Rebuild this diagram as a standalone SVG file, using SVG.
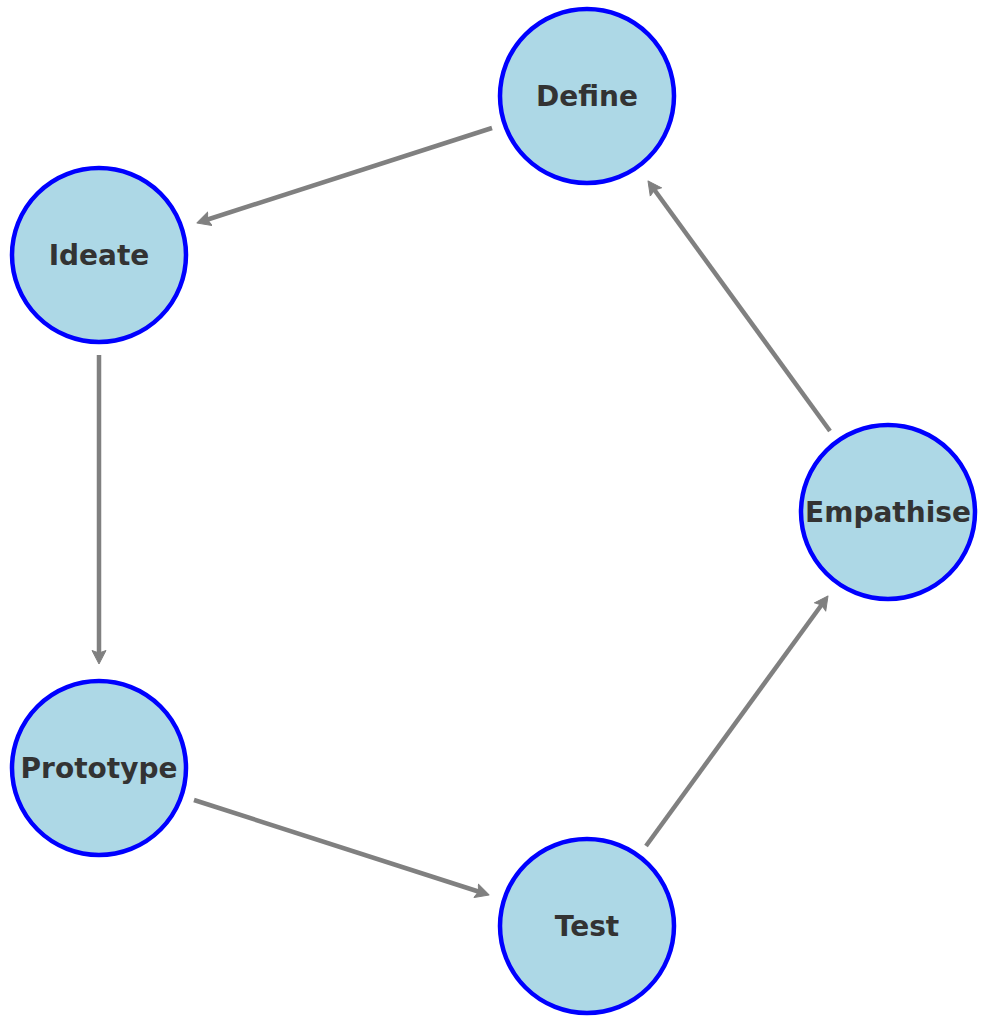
<svg xmlns="http://www.w3.org/2000/svg" width="982" height="1024" viewBox="0 0 982 1024">
<style>
.node circle{fill:#ADD8E6;stroke:#0000FF;stroke-width:4.5}
.node text{font-family:"DejaVu Sans",sans-serif;font-weight:bold;font-size:28px;fill:#333333;text-anchor:middle;dominant-baseline:central}
.edges line{stroke:#808080;stroke-width:4.5;marker-end:url(#arr)}
</style>
<defs>
<marker id="arr" markerUnits="userSpaceOnUse" markerWidth="16" markerHeight="16" viewBox="0 0 16 16" refX="6" refY="8" orient="auto">
<path d="M0.5,1 L14,8 L0.5,15 L3,8 z" fill="#808080" stroke="#808080" stroke-width="1" stroke-linejoin="round"/>
</marker>
</defs>
<rect width="982" height="1024" fill="#ffffff"/>
<g class="edges">
<line x1="492" y1="128" x2="204.6" y2="220.5"/>
<line x1="99" y1="355" x2="99" y2="656"/>
<line x1="194" y1="800" x2="481.4" y2="892.5"/>
<line x1="646" y1="846" x2="823.3" y2="602.5"/>
<line x1="830" y1="431" x2="652.7" y2="187.5"/>
</g>
<g id="define" class="node"><circle cx="587" cy="96" r="87"/><text x="587" y="96">Define</text></g>
<g id="ideate" class="node"><circle cx="99" cy="255" r="87"/><text x="99" y="255">Ideate</text></g>
<g id="empathise" class="node"><circle cx="888" cy="512" r="87"/><text x="888" y="512">Empathise</text></g>
<g id="prototype" class="node"><circle cx="99" cy="768" r="87"/><text x="99" y="768">Prototype</text></g>
<g id="test" class="node"><circle cx="587" cy="926" r="87"/><text x="587" y="926">Test</text></g>
</svg>
